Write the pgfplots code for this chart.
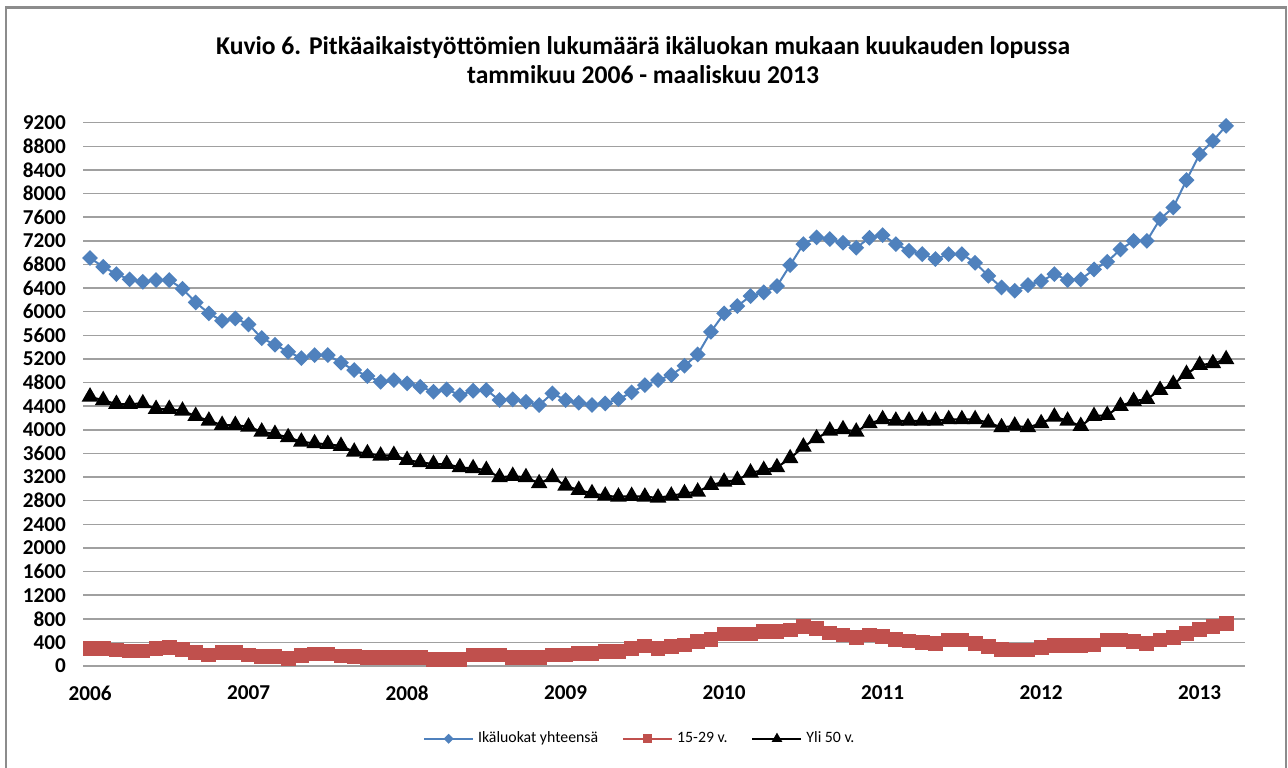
\documentclass[border=0pt]{standalone}
\usepackage{pgfplots}
\pgfplotsset{compat=1.18}
\usepackage{fontspec}
\setmainfont{Carlito}

\definecolor{xlblue}{HTML}{4F81BD}
\definecolor{xlred}{HTML}{C0504D}
\definecolor{gridgray}{HTML}{A0A0A0}
\definecolor{framegray}{HTML}{8C8C8C}

% kuukausittaiset arvot, tammikuu 2006 = 0 ... maaliskuu 2013 = 86
\pgfplotstableread{
m total young old
0 6910 300 4560
1 6760 300 4500
2 6636 271 4436
3 6547 254 4436
4 6506 254 4447
5 6535 300 4351
6 6535 317 4351
7 6388 283 4322
8 6157 226 4232
9 5971 186 4153
10 5846 226 4080
11 5886 226 4080
12 5785 186 4052
13 5553 158 3967
14 5440 158 3928
15 5321 130 3872
16 5214 175 3798
17 5265 203 3770
18 5265 203 3758
19 5135 169 3725
20 5011 158 3628
21 4910 141 3601
22 4813 141 3561
23 4842 141 3572
24 4786 144 3488
25 4729 140 3450
26 4644 113 3420
27 4684 113 3420
28 4588 113 3364
29 4661 186 3347
30 4673 186 3318
31 4503 186 3195
32 4515 147 3217
33 4475 147 3195
34 4419 147 3093
35 4617 186 3195
36 4503 186 3053
37 4458 215 2980
38 4419 215 2924
39 4447 243 2883
40 4520 243 2866
41 4633 300 2878
42 4757 339 2866
43 4842 300 2850
44 4927 328 2883
45 5084 356 2924
46 5277 412 2951
47 5660 452 3064
48 5971 542 3120
49 6095 542 3149
50 6264 542 3273
51 6327 581 3318
52 6433 581 3364
53 6789 610 3516
54 7145 666 3713
55 7258 638 3855
56 7230 558 3984
57 7167 525 4007
58 7082 486 3967
59 7251 525 4109
60 7297 497 4177
61 7145 452 4153
62 7031 423 4153
63 6975 395 4153
64 6891 384 4153
65 6975 440 4177
66 6975 440 4177
67 6828 384 4177
68 6608 328 4119
69 6411 283 4041
70 6354 271 4068
71 6450 271 4041
72 6518 317 4109
73 6636 344 4221
74 6535 344 4153
75 6547 344 4063
76 6716 356 4232
77 6845 440 4249
78 7055 440 4402
79 7200 412 4486
80 7200 384 4520
81 7568 440 4673
82 7766 486 4774
83 8228 553 4944
84 8668 621 5096
85 8893 666 5125
86 9147 723 5193
}\datatable

\begin{document}
\begin{tikzpicture}
\path[use as bounding box] (0,0) rectangle (644pt,383.5pt);
\draw[framegray, line width=1.3pt] (3pt,-2pt) -- (3pt,379.75pt) -- (643pt,379.75pt) -- (643pt,-2pt);
\node[font=\bfseries\fontsize{12.8}{14.5}\selectfont, align=center] at (321.5pt,353.25pt)
  {Kuvio 6. Pitkäaikaistyöttömien lukumäärä ikäluokan mukaan kuukauden lopussa\\tammikuu 2006 - maaliskuu 2013};
\begin{axis}[
    at={(41.5pt,50.5pt)}, anchor=south west,
    scale only axis,
    width=581pt, height=271.65pt,
    xmin=-0.53, xmax=87.43,
    ymin=0, ymax=9200,
    ytick={0,400,...,9200},
    xtick={0,12,...,84},
    xticklabels={2006,2007,2008,2009,2010,2011,2012,2013},
    /pgf/number format/assume math mode=true,
    /pgf/number format/1000 sep={},
    tick style={draw=none},
    axis line style={draw=none},
    ymajorgrids,
    grid style={gridgray, line width=0.75pt},
    yticklabel style={font=\bfseries\fontsize{10.6}{11}\selectfont, xshift=-5pt},
    xticklabel style={font=\bfseries\fontsize{10.6}{11}\selectfont, yshift=-6.5pt},
    legend columns=3,
    legend style={at={(0.48,-0.134)}, anchor=center, draw=none, fill=none,
      font=\fontsize{7.9}{9}\selectfont,
      /tikz/every even column/.append style={column sep=10pt}},
    legend image code/.code={%
      \draw[#1, every mark/.append style={scale=0.55}, mark repeat=2, mark phase=2]
        plot coordinates {(0pt,0pt) (12.25pt,0pt) (24.5pt,0pt)};},
]
\addplot[xlblue, line width=1pt, mark=square*, mark size=2.3pt,
  mark options={rotate=45, fill=xlblue, draw=xlblue}] table[x=m, y=total] {\datatable};
\addlegendentry{Ikäluokat yhteensä}
\addplot[xlred, line width=1pt, mark=square*, mark size=3.2pt,
  mark options={fill=xlred, draw=xlred}] table[x=m, y=young] {\datatable};
\addlegendentry{15-29 v.}
\addplot[black, line width=1pt, mark=triangle*, mark size=3.8pt,
  mark options={fill=black, draw=black}] table[x=m, y=old] {\datatable};
\addlegendentry{Yli 50 v.}
\end{axis}
\end{tikzpicture}
\end{document}
